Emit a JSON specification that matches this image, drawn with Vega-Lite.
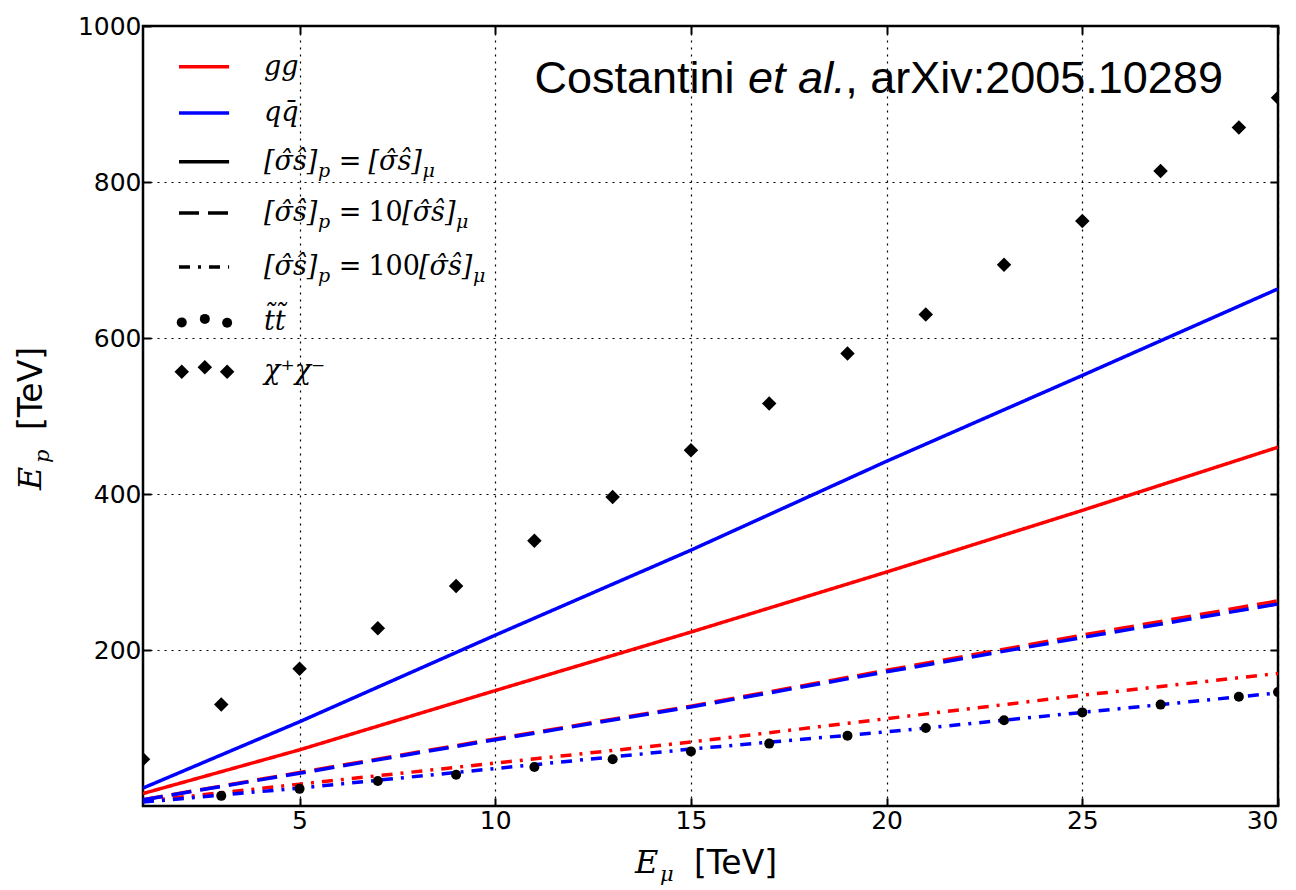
{
  "$schema": "https://vega.github.io/schema/vega-lite/v6.json",
  "width": 1135,
  "height": 780,
  "autosize": {"type": "none"},
  "padding": {"left": 143, "top": 26, "right": 18, "bottom": 84},
  "background": "white",
  "config": {
    "view": {"stroke": "black", "strokeWidth": 2.5},
    "axis": {
      "domain": false,
      "tickColor": "black",
      "tickWidth": 2,
      "tickSize": -8,
      "labelFont": "DejaVu Sans",
      "labelFontSize": 25,
      "labelColor": "black",
      "titleFont": "DejaVu Sans",
      "titleFontSize": 33,
      "titleFontWeight": "normal",
      "titleColor": "black",
      "gridColor": "black",
      "gridDash": [2, 5],
      "gridWidth": 1.2,
      "gridOpacity": 1
    }
  },
  "datasets": {
    "curves": [
      {"process": "gg", "ratio": "1", "x": 1, "y": 16},
      {"process": "gg", "ratio": "1", "x": 5, "y": 72},
      {"process": "gg", "ratio": "1", "x": 10, "y": 148},
      {"process": "gg", "ratio": "1", "x": 15, "y": 223},
      {"process": "gg", "ratio": "1", "x": 20, "y": 300},
      {"process": "gg", "ratio": "1", "x": 25, "y": 379},
      {"process": "gg", "ratio": "1", "x": 30, "y": 460},
      {"process": "gg", "ratio": "10", "x": 1, "y": 8},
      {"process": "gg", "ratio": "10", "x": 5, "y": 43},
      {"process": "gg", "ratio": "10", "x": 10, "y": 86},
      {"process": "gg", "ratio": "10", "x": 15, "y": 128},
      {"process": "gg", "ratio": "10", "x": 20, "y": 174},
      {"process": "gg", "ratio": "10", "x": 25, "y": 219},
      {"process": "gg", "ratio": "10", "x": 30, "y": 263},
      {"process": "gg", "ratio": "100", "x": 1, "y": 6},
      {"process": "gg", "ratio": "100", "x": 5, "y": 28},
      {"process": "gg", "ratio": "100", "x": 10, "y": 55},
      {"process": "gg", "ratio": "100", "x": 15, "y": 82},
      {"process": "gg", "ratio": "100", "x": 20, "y": 112},
      {"process": "gg", "ratio": "100", "x": 25, "y": 142},
      {"process": "gg", "ratio": "100", "x": 30, "y": 170},
      {"process": "qq", "ratio": "1", "x": 1, "y": 23},
      {"process": "qq", "ratio": "1", "x": 5, "y": 108},
      {"process": "qq", "ratio": "1", "x": 10, "y": 219},
      {"process": "qq", "ratio": "1", "x": 15, "y": 328},
      {"process": "qq", "ratio": "1", "x": 20, "y": 442},
      {"process": "qq", "ratio": "1", "x": 25, "y": 552},
      {"process": "qq", "ratio": "1", "x": 30, "y": 663},
      {"process": "qq", "ratio": "10", "x": 1, "y": 8},
      {"process": "qq", "ratio": "10", "x": 5, "y": 42},
      {"process": "qq", "ratio": "10", "x": 10, "y": 85},
      {"process": "qq", "ratio": "10", "x": 15, "y": 127},
      {"process": "qq", "ratio": "10", "x": 20, "y": 172},
      {"process": "qq", "ratio": "10", "x": 25, "y": 216},
      {"process": "qq", "ratio": "10", "x": 30, "y": 259},
      {"process": "qq", "ratio": "100", "x": 1, "y": 5},
      {"process": "qq", "ratio": "100", "x": 5, "y": 23},
      {"process": "qq", "ratio": "100", "x": 10, "y": 48},
      {"process": "qq", "ratio": "100", "x": 15, "y": 73},
      {"process": "qq", "ratio": "100", "x": 20, "y": 95},
      {"process": "qq", "ratio": "100", "x": 25, "y": 120},
      {"process": "qq", "ratio": "100", "x": 30, "y": 145}
    ],
    "points": [
      {"kind": "tt", "x": 3, "y": 13},
      {"kind": "tt", "x": 5, "y": 22},
      {"kind": "tt", "x": 7, "y": 32},
      {"kind": "tt", "x": 9, "y": 40},
      {"kind": "tt", "x": 11, "y": 50},
      {"kind": "tt", "x": 13, "y": 60},
      {"kind": "tt", "x": 15, "y": 70},
      {"kind": "tt", "x": 17, "y": 80},
      {"kind": "tt", "x": 19, "y": 90},
      {"kind": "tt", "x": 21, "y": 100},
      {"kind": "tt", "x": 23, "y": 110},
      {"kind": "tt", "x": 25, "y": 120},
      {"kind": "tt", "x": 27, "y": 130},
      {"kind": "tt", "x": 29, "y": 140},
      {"kind": "tt", "x": 30, "y": 146},
      {"kind": "chi", "x": 1, "y": 60},
      {"kind": "chi", "x": 3, "y": 130},
      {"kind": "chi", "x": 5, "y": 176},
      {"kind": "chi", "x": 7, "y": 228},
      {"kind": "chi", "x": 9, "y": 282},
      {"kind": "chi", "x": 11, "y": 340},
      {"kind": "chi", "x": 13, "y": 396},
      {"kind": "chi", "x": 15, "y": 456},
      {"kind": "chi", "x": 17, "y": 516},
      {"kind": "chi", "x": 19, "y": 580},
      {"kind": "chi", "x": 21, "y": 630},
      {"kind": "chi", "x": 23, "y": 694},
      {"kind": "chi", "x": 25, "y": 750},
      {"kind": "chi", "x": 27, "y": 814},
      {"kind": "chi", "x": 29, "y": 870},
      {"kind": "chi", "x": 30, "y": 908}
    ],
    "legendLines": [
      {"item": "a", "process": "gg", "ratio": "1", "x": 1.92, "y": 947.8},
      {"item": "a", "process": "gg", "ratio": "1", "x": 3.2, "y": 947.8},
      {"item": "b", "process": "qq", "ratio": "1", "x": 1.92, "y": 888.5},
      {"item": "b", "process": "qq", "ratio": "1", "x": 3.2, "y": 888.5},
      {"item": "c", "process": "all", "ratio": "1", "x": 1.92, "y": 826.0},
      {"item": "c", "process": "all", "ratio": "1", "x": 3.2, "y": 826.0},
      {"item": "d", "process": "all", "ratio": "10", "x": 1.92, "y": 760.3},
      {"item": "d", "process": "all", "ratio": "10", "x": 3.2, "y": 760.3},
      {"item": "e", "process": "all", "ratio": "100", "x": 1.92, "y": 691.0},
      {"item": "e", "process": "all", "ratio": "100", "x": 3.2, "y": 691.0}
    ],
    "legendPoints": [
      {"kind": "tt", "x": 1.99, "y": 620.0},
      {"kind": "tt", "x": 2.58, "y": 624.5},
      {"kind": "tt", "x": 3.15, "y": 619.5},
      {"kind": "chi", "x": 1.99, "y": 556.8},
      {"kind": "chi", "x": 2.58, "y": 562.4},
      {"kind": "chi", "x": 3.15, "y": 556.8}
    ],
    "legendItalic": [
      {"x": 4.092, "y": 947.8, "t": "gg"},
      {"x": 4.092, "y": 888.5, "t": "qq̄"},
      {"x": 4.092, "y": 826.0, "t": "[σ̂ŝ]"},
      {"x": 6.760, "y": 826.0, "t": "[σ̂ŝ]"},
      {"x": 4.092, "y": 760.3, "t": "[σ̂ŝ]"},
      {"x": 7.620, "y": 760.3, "t": "[σ̂ŝ]"},
      {"x": 4.092, "y": 691.0, "t": "[σ̂ŝ]"},
      {"x": 8.050, "y": 691.0, "t": "[σ̂ŝ]"},
      {"x": 4.092, "y": 620.9, "t": "t̃t̃"},
      {"x": 4.092, "y": 558.1, "t": "χ⁺χ⁻"}
    ],
    "legendUpright": [
      {"x": 6.000, "y": 826.0, "t": "="},
      {"x": 6.000, "y": 760.3, "t": "="},
      {"x": 6.760, "y": 760.3, "t": "10"},
      {"x": 6.000, "y": 691.0, "t": "="},
      {"x": 6.760, "y": 691.0, "t": "100"}
    ],
    "legendSub": [
      {"x": 5.471, "y": 826.0, "t": "p"},
      {"x": 8.140, "y": 826.0, "t": "μ"},
      {"x": 5.471, "y": 760.3, "t": "p"},
      {"x": 9.000, "y": 760.3, "t": "μ"},
      {"x": 5.471, "y": 691.0, "t": "p"},
      {"x": 9.430, "y": 691.0, "t": "μ"}
    ]
  },
  "layer": [
    {
      "data": {"name": "curves"},
      "mark": {"type": "line", "strokeWidth": 3.5, "clip": true},
      "encoding": {
        "x": {
          "field": "x", "type": "quantitative",
          "scale": {"domain": [1, 30], "nice": false, "zero": false},
          "axis": {
            "orient": "bottom", "values": [5, 10, 15, 20, 25, 30], "grid": true, "format": "d",
            "labelPadding": 10,
            "title": "[TeV]", "titleX": 592, "titleY": 67,
            "titleAlign": "center", "titleBaseline": "alphabetic", "titleAnchor": null
          }
        },
        "y": {
          "field": "y", "type": "quantitative",
          "scale": {"domain": [0, 1000], "nice": false, "zero": false},
          "axis": {
            "orient": "left", "values": [200, 400, 600, 800, 1000], "grid": true, "format": "d",
            "labelPadding": 10,
            "title": "[TeV]", "titleAngle": 270, "titleX": -102, "titleY": 362,
            "titleAlign": "center", "titleBaseline": "alphabetic", "titleAnchor": null
          }
        },
        "color": {
          "field": "process", "type": "nominal",
          "scale": {"domain": ["gg", "qq", "all"], "range": ["#ff0000", "#0000ff", "#000000"]},
          "legend": null
        },
        "strokeDash": {
          "field": "ratio", "type": "nominal",
          "scale": {"domain": ["1", "10", "100"], "range": [[1, 0], [20, 9], [11, 8, 3, 8]]},
          "legend": null
        }
      }
    },
    {
      "data": {"name": "points"},
      "mark": {"type": "point", "filled": true, "opacity": 1, "color": "black", "strokeWidth": 0, "clip": true},
      "encoding": {
        "x": {
          "field": "x", "type": "quantitative",
          "axis": {"orient": "top", "values": [5, 10, 15, 20, 25, 30], "labels": false, "grid": false, "title": null}
        },
        "y": {
          "field": "y", "type": "quantitative",
          "axis": {"orient": "right", "values": [200, 400, 600, 800, 1000], "labels": false, "grid": false, "title": null}
        },
        "shape": {
          "field": "kind", "type": "nominal",
          "scale": {"domain": ["tt", "chi"], "range": ["circle", "diamond"]},
          "legend": null
        },
        "size": {
          "field": "kind", "type": "nominal",
          "scale": {"domain": ["tt", "chi"], "range": [100, 210]},
          "legend": null
        }
      }
    },
    {
      "data": {"name": "legendLines"},
      "mark": {"type": "line", "strokeWidth": 3.5},
      "encoding": {
        "x": {"field": "x", "type": "quantitative", "axis": null},
        "y": {"field": "y", "type": "quantitative", "axis": null},
        "color": {"field": "process", "type": "nominal", "legend": null},
        "strokeDash": {"field": "ratio", "type": "nominal", "legend": null},
        "detail": {"field": "item", "type": "nominal"}
      }
    },
    {
      "data": {"name": "legendPoints"},
      "mark": {"type": "point", "filled": true, "opacity": 1, "color": "black", "strokeWidth": 0},
      "encoding": {
        "x": {"field": "x", "type": "quantitative", "axis": null},
        "y": {"field": "y", "type": "quantitative", "axis": null},
        "shape": {"field": "kind", "type": "nominal", "legend": null},
        "size": {"field": "kind", "type": "nominal", "legend": null}
      }
    },
    {
      "data": {"name": "legendItalic"},
      "mark": {"type": "text", "font": "DejaVu Serif", "fontStyle": "italic", "fontSize": 27, "align": "left", "baseline": "middle", "color": "black"},
      "encoding": {
        "x": {"field": "x", "type": "quantitative", "axis": null},
        "y": {"field": "y", "type": "quantitative", "axis": null},
        "text": {"field": "t"}
      }
    },
    {
      "data": {"name": "legendUpright"},
      "mark": {"type": "text", "font": "DejaVu Serif", "fontSize": 27, "align": "left", "baseline": "middle", "color": "black"},
      "encoding": {
        "x": {"field": "x", "type": "quantitative", "axis": null},
        "y": {"field": "y", "type": "quantitative", "axis": null},
        "text": {"field": "t"}
      }
    },
    {
      "data": {"name": "legendSub"},
      "mark": {"type": "text", "font": "DejaVu Serif", "fontStyle": "italic", "fontSize": 19, "align": "left", "baseline": "middle", "dy": 9, "color": "black"},
      "encoding": {
        "x": {"field": "x", "type": "quantitative", "axis": null},
        "y": {"field": "y", "type": "quantitative", "axis": null},
        "text": {"field": "t"}
      }
    },
    {
      "data": {"values": [{}]},
      "mark": {"type": "text", "font": "Liberation Sans", "fontSize": 45, "align": "left", "baseline": "alphabetic", "color": "black", "text": "Costantini"},
      "encoding": {
        "x": {"datum": 11.0, "type": "quantitative", "axis": null},
        "y": {"datum": 914, "type": "quantitative", "axis": null}
      }
    },
    {
      "data": {"values": [{}]},
      "mark": {"type": "text", "font": "Liberation Sans", "fontStyle": "italic", "fontSize": 45, "align": "left", "baseline": "alphabetic", "color": "black", "text": "et al."},
      "encoding": {
        "x": {"datum": 16.46, "type": "quantitative", "axis": null},
        "y": {"datum": 914, "type": "quantitative", "axis": null}
      }
    },
    {
      "data": {"values": [{}]},
      "mark": {"type": "text", "font": "Liberation Sans", "fontSize": 45, "align": "left", "baseline": "alphabetic", "color": "black", "text": ", arXiv:2005.10289"},
      "encoding": {
        "x": {"datum": 18.94, "type": "quantitative", "axis": null},
        "y": {"datum": 914, "type": "quantitative", "axis": null}
      }
    },
    {
      "data": {"values": [{}]},
      "mark": {"type": "text", "font": "DejaVu Serif", "fontStyle": "italic", "fontSize": 32, "align": "left", "baseline": "alphabetic", "color": "black", "text": "E"},
      "encoding": {
        "x": {"datum": 13.57, "type": "quantitative", "axis": null},
        "y": {"datum": -85.9, "type": "quantitative", "axis": null}
      }
    },
    {
      "data": {"values": [{}]},
      "mark": {"type": "text", "font": "DejaVu Serif", "fontStyle": "italic", "fontSize": 21, "align": "left", "baseline": "alphabetic", "dy": 8, "color": "black", "text": "μ"},
      "encoding": {
        "x": {"datum": 14.21, "type": "quantitative", "axis": null},
        "y": {"datum": -85.9, "type": "quantitative", "axis": null}
      }
    },
    {
      "data": {"values": [{}]},
      "mark": {"type": "text", "font": "DejaVu Serif", "fontStyle": "italic", "fontSize": 32, "align": "left", "baseline": "alphabetic", "angle": 270, "color": "black", "text": "E"},
      "encoding": {
        "x": {"datum": -1.606, "type": "quantitative", "axis": null},
        "y": {"datum": 405.1, "type": "quantitative", "axis": null}
      }
    },
    {
      "data": {"values": [{}]},
      "mark": {"type": "text", "font": "DejaVu Serif", "fontStyle": "italic", "fontSize": 21, "align": "left", "baseline": "alphabetic", "angle": 270, "dy": 8, "color": "black", "text": "p"},
      "encoding": {
        "x": {"datum": -1.606, "type": "quantitative", "axis": null},
        "y": {"datum": 439.7, "type": "quantitative", "axis": null}
      }
    }
  ],
  "resolve": {"axis": {"x": "independent", "y": "independent"}}
}
